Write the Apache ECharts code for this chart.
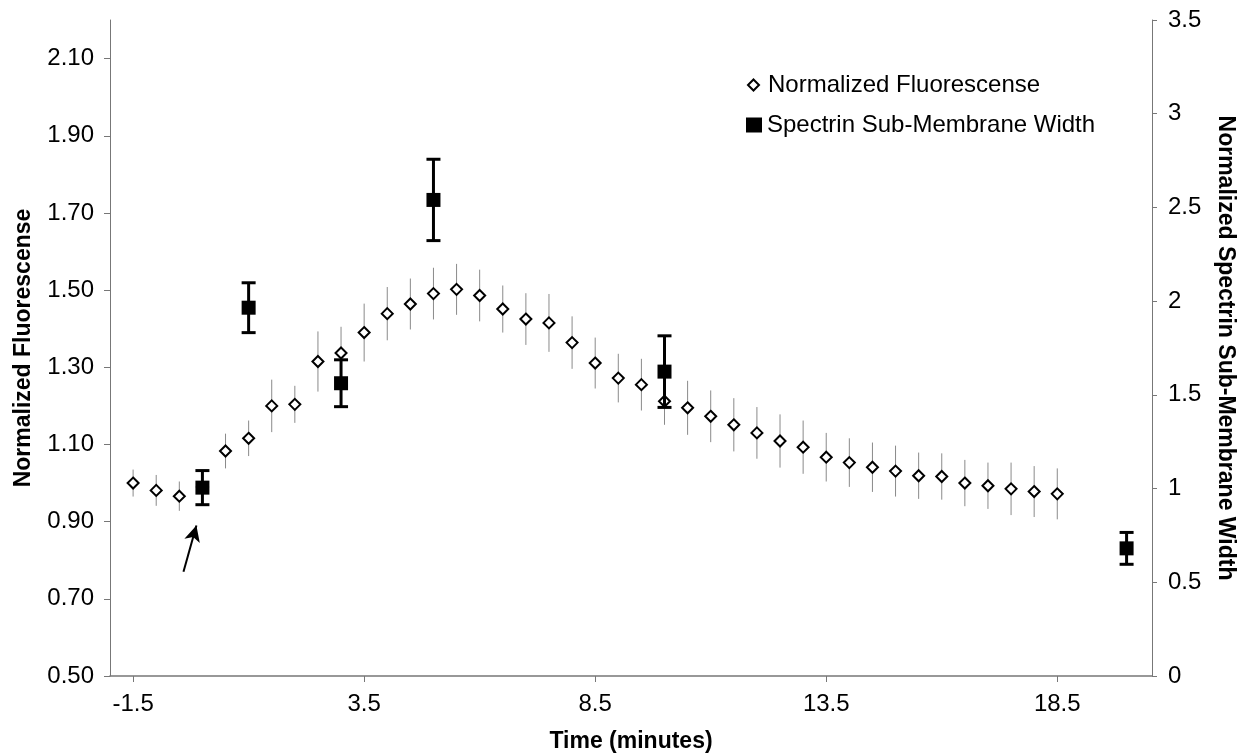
<!DOCTYPE html>
<html>
<head>
<meta charset="utf-8">
<script src="https://cdn.jsdelivr.net/npm/echarts@6/dist/echarts.min.js"></script>
<style>
  html, body { margin: 0; padding: 0; background: #fff; }
  #chart { width: 1246px; height: 754px; }
</style>
</head>
<body>
<div id="chart"></div>
<script>
// time points (minutes) of the fluorescence series
var fluoTime = [-1.5, -1, -0.5, 0, 0.5, 1, 1.5, 2, 2.5, 3, 3.5, 4, 4.5, 5, 5.5, 6, 6.5, 7, 7.5, 8,
  8.5, 9, 9.5, 10, 10.5, 11, 11.5, 12, 12.5, 13, 13.5, 14, 14.5, 15, 15.5, 16, 16.5, 17, 17.5, 18, 18.5];
var fluoValue = [1.000, 0.981, 0.966, 0.990, 1.083, 1.116, 1.200, 1.204, 1.315, 1.337, 1.390, 1.439, 1.464,
  1.491, 1.502, 1.486, 1.451, 1.425, 1.415, 1.364, 1.311, 1.272, 1.255, 1.212, 1.195, 1.173, 1.151,
  1.130, 1.109, 1.093, 1.067, 1.053, 1.041, 1.031, 1.019, 1.017, 1.000, 0.993, 0.985, 0.978, 0.972];
var fluoErr = [0.035, 0.040, 0.038, 0.035, 0.045, 0.046, 0.068, 0.048, 0.078, 0.068, 0.075, 0.069, 0.066,
  0.067, 0.066, 0.067, 0.061, 0.067, 0.075, 0.068, 0.066, 0.063, 0.067, 0.061, 0.070, 0.067, 0.069,
  0.067, 0.069, 0.069, 0.063, 0.063, 0.064, 0.066, 0.060, 0.060, 0.060, 0.060, 0.068, 0.066, 0.066];

// spectrin sub-membrane width (right axis)
var specTime = [0, 1, 3, 5, 10, 20];
var specValue = [1.005, 1.965, 1.562, 2.540, 1.624, 0.681];
var specErr = [0.091, 0.133, 0.125, 0.217, 0.191, 0.085];

// tick labels
var xTicks = [-1.5, 3.5, 8.5, 13.5, 18.5];
var leftTicks = [0.5, 0.7, 0.9, 1.1, 1.3, 1.5, 1.7, 1.9, 2.1];
var rightTicks = [0, 0.5, 1, 1.5, 2, 2.5, 3, 3.5];

// arrow pointing at the stimulus time (data coords, left axis)
var arrowFrom = [-0.41, 0.77];
var arrowTo = [-0.13, 0.89];

var FONT = 'Liberation Sans';

var fluoData = fluoTime.map(function (t, i) { return [t, fluoValue[i], fluoErr[i]]; });
var specData = specTime.map(function (t, i) { return [t, specValue[i], specErr[i]]; });

// thin grey error bar
function fluoBar(params, api) {
  var x = api.value(0), y = api.value(1), e = api.value(2);
  var top = api.coord([x, y + e]);
  var bot = api.coord([x, y - e]);
  return {
    type: 'line',
    shape: { x1: top[0], y1: top[1], x2: bot[0], y2: bot[1] },
    style: { stroke: '#8a8a8a', lineWidth: 1 }
  };
}

// thick black error bar with caps
function specBar(params, api) {
  var x = api.value(0), y = api.value(1), e = api.value(2);
  var top = api.coord([x, y + e]);
  var bot = api.coord([x, y - e]);
  var st = { stroke: '#000', lineWidth: 3 };
  return {
    type: 'group',
    children: [
      { type: 'line', shape: { x1: top[0], y1: top[1], x2: bot[0], y2: bot[1] }, style: st },
      { type: 'line', shape: { x1: top[0] - 7, y1: top[1], x2: top[0] + 7, y2: top[1] }, style: st },
      { type: 'line', shape: { x1: bot[0] - 7, y1: bot[1], x2: bot[0] + 7, y2: bot[1] }, style: st }
    ]
  };
}

var chart = echarts.init(document.getElementById('chart'));

chart.setOption({
  animation: false,
  backgroundColor: '#fff',
  textStyle: { fontFamily: FONT },
  grid: { left: 110, right: 94, top: 20, bottom: 78, outerBoundsMode: 'none', containLabel: false },
  legend: [{
    data: [{ name: 'Normalized Fluorescense', icon: 'diamond' }],
    left: 747, top: 73, padding: 0,
    itemWidth: 11, itemHeight: 11,
    textStyle: { fontFamily: FONT, fontSize: 24, color: '#000', padding: [0, 0, 0, 4] }
  }, {
    data: [{ name: 'Spectrin Sub-Membrane Width', icon: 'rect' }],
    left: 746, top: 113, padding: 0,
    itemWidth: 16, itemHeight: 15,
    textStyle: { fontFamily: FONT, fontSize: 24, color: '#000' }
  }],
  xAxis: {
    type: 'value',
    min: -2, max: 20.55,
    name: 'Time (minutes)',
    nameLocation: 'middle',
    nameGap: 54,
    nameTextStyle: { fontFamily: FONT, fontSize: 23, fontWeight: 'bold', color: '#000' },
    axisLine: { onZero: false, lineStyle: { color: '#777', width: 1.5 } },
    axisTick: { show: true, length: 6, customValues: xTicks, lineStyle: { color: '#777' } },
    axisLabel: {
      customValues: xTicks, margin: 16,
      fontFamily: FONT, fontSize: 24, color: '#000',
      formatter: function (v) { return v.toFixed(1); }
    },
    splitLine: { show: false }
  },
  yAxis: [{
    type: 'value',
    min: 0.5, max: 2.2,
    name: 'Normalized Fluorescense',
    nameLocation: 'middle',
    nameGap: 75,
    nameTextStyle: { fontFamily: FONT, fontSize: 23, fontWeight: 'bold', color: '#000' },
    axisLine: { show: true, onZero: false, lineStyle: { color: '#777', width: 1 } },
    axisTick: { show: true, length: 6, customValues: leftTicks, lineStyle: { color: '#777' } },
    axisLabel: {
      customValues: leftTicks, margin: 16,
      fontFamily: FONT, fontSize: 24, color: '#000',
      formatter: function (v) { return v.toFixed(2); }
    },
    splitLine: { show: false }
  }, {
    type: 'value',
    position: 'right',
    min: 0, max: 3.5,
    name: 'Normalized Spectrin Sub-Membrane Width',
    nameLocation: 'middle',
    nameGap: 62,
    nameRotate: -90,
    nameTextStyle: { fontFamily: FONT, fontSize: 23, fontWeight: 'bold', color: '#000' },
    axisLine: { show: true, onZero: false, lineStyle: { color: '#777', width: 1 } },
    axisTick: { show: true, length: 5, customValues: rightTicks, lineStyle: { color: '#777' } },
    axisLabel: {
      customValues: rightTicks, margin: 16,
      fontFamily: FONT, fontSize: 24, color: '#000'
    },
    splitLine: { show: false }
  }],
  series: [{
    name: 'fluoErr',
    type: 'custom',
    xAxisIndex: 0, yAxisIndex: 0,
    renderItem: fluoBar,
    encode: { x: 0, y: 1 },
    data: fluoData,
    silent: true,
    z: 1
  }, {
    name: 'Normalized Fluorescense',
    type: 'scatter',
    xAxisIndex: 0, yAxisIndex: 0,
    symbol: 'diamond',
    symbolSize: 11,
    itemStyle: { color: '#fff', borderColor: '#000', borderWidth: 2, opacity: 1 },
    data: fluoData,
    z: 2,
    markLine: {
      silent: true,
      symbol: ['none', 'arrow'],
      symbolSize: [12, 16],
      label: { show: false },
      lineStyle: { color: '#000', width: 2, type: 'solid' },
      data: [[{ coord: arrowFrom }, { coord: arrowTo }]]
    }
  }, {
    name: 'specErr',
    type: 'custom',
    xAxisIndex: 0, yAxisIndex: 1,
    renderItem: specBar,
    encode: { x: 0, y: 1 },
    data: specData,
    silent: true,
    z: 3
  }, {
    name: 'Spectrin Sub-Membrane Width',
    type: 'scatter',
    xAxisIndex: 0, yAxisIndex: 1,
    symbol: 'rect',
    symbolSize: 14,
    itemStyle: { color: '#000', opacity: 1 },
    data: specData,
    z: 4
  }]
});
</script>
</body>
</html>
